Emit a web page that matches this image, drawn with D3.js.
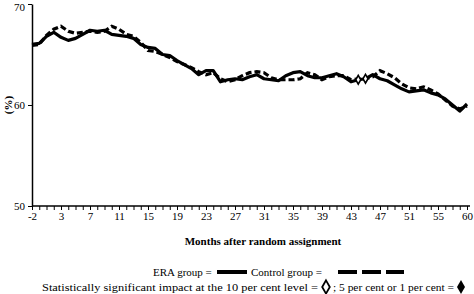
<!DOCTYPE html>
<html><head><meta charset="utf-8">
<script src="https://cdn.jsdelivr.net/npm/d3@7"></script>
<style>
body{margin:0;background:#fff;}
svg text{font-family:"Liberation Serif",serif !important;fill:#000;}
</style></head>
<body><svg id="c" width="474" height="294" font-family="Liberation Serif, serif"></svg>
<script>
const months = [-2,-1,1,2,3,4,5,6,7,8,9,10,11,12,13,14,15,16,17,18,19,20,21,22,23,24,25,26,27,28,29,30,31,32,33,34,35,36,37,38,39,40,41,42,43,44,45,46,47,48,49,50,51,52,53,54,55,56,57,58,60];
const era = [66.0,66.1,66.8,67.2,66.7,66.4,66.6,67.0,67.4,67.3,67.4,67.0,66.9,66.8,66.6,66.0,65.7,65.6,65.0,64.9,64.4,64.0,63.6,63.0,63.4,63.4,62.3,62.5,62.6,62.5,62.8,63.0,62.6,62.5,62.4,62.9,63.2,63.3,62.9,62.7,62.7,62.9,63.1,62.8,62.3,62.5,62.6,63.0,62.6,62.4,62.0,61.6,61.3,61.4,61.5,61.2,61.0,60.6,60.0,59.4,60.1];
const control = [65.9,66.0,66.9,67.5,67.8,67.3,67.1,67.2,67.3,67.2,67.3,67.8,67.5,67.0,66.8,66.2,65.4,65.3,65.0,64.7,64.3,64.0,63.7,63.3,63.0,63.2,62.6,62.3,62.5,62.9,63.2,63.3,63.2,62.7,62.5,62.5,62.5,62.6,63.2,63.0,62.5,62.8,62.9,62.9,62.5,62.6,62.6,62.8,63.4,63.1,62.7,62.1,61.7,61.6,61.8,61.5,61.1,60.5,59.9,59.6,59.9];
const sigMonths = [44,45];
const yTicks = [50,60,70];

const FONT = "Liberation Serif, serif";
const svg = d3.select("#c");
const x = d3.scaleLinear().domain([0, months.length-1]).range([32, 467]);
const y = d3.scaleLinear().domain([50,70]).range([206, 4]);

// axes
const xAxis = d3.axisBottom(x)
  .tickValues(d3.range(months.length))
  .tickFormat(i => (i % 4 === 0) ? String(months[i]) : "")
  .tickSize(4).tickSizeOuter(0).tickPadding(2);
const gx = svg.append("g").attr("transform","translate(0,206)").call(xAxis).attr("font-family",FONT);
gx.select(".domain").attr("d","M32,0H470").attr("stroke","#000").attr("stroke-width",1.5);
gx.selectAll(".tick line").attr("stroke","#000").attr("stroke-width",1);
gx.selectAll("text").attr("font-size",11);

const yAxis = d3.axisLeft(y).tickValues(yTicks).tickSize(4).tickSizeOuter(0).tickPadding(3);
const gy = svg.append("g").attr("transform","translate(32,0)").call(yAxis).attr("font-family",FONT);
gy.select(".domain").attr("stroke","#000").attr("stroke-width",1.5);
gy.selectAll("text").attr("font-size",11);
gy.selectAll(".tick").filter(d => d === 70).select("text").attr("dy","0.55em");

svg.append("text").attr("transform","translate(12,105) rotate(-90)")
  .attr("text-anchor","middle").attr("font-size",11).attr("font-weight","bold").text("(%)");

// lines
const line = d3.line().x((d,i)=>x(i)).y(d=>y(d));
svg.append("path").datum(era).attr("d",line).attr("fill","none")
  .attr("stroke","#000").attr("stroke-width",3.2).attr("stroke-linejoin","round");
svg.append("path").datum(control).attr("d",line).attr("fill","none")
  .attr("stroke","#000").attr("stroke-width",3.2).attr("stroke-dasharray","6,3");

// significance markers
const diamond = d3.symbol().type(d3.symbolDiamond).size(22);
sigMonths.forEach(m => {
  const i = months.indexOf(m);
  svg.append("path").attr("d",diamond())
    .attr("transform",`translate(${x(i)},${y(era[i])})`)
    .attr("fill","#fff").attr("stroke","#000").attr("stroke-width",1.6);
});

// axis title
svg.append("text").attr("x",263).attr("y",245).attr("text-anchor","middle")
  .attr("font-size",11).attr("font-weight","bold").text("Months after random assignment");

// legend
svg.append("text").attr("x",153).attr("y",276).attr("font-size",11).text("ERA group =");
svg.append("line").attr("x1",217).attr("x2",247).attr("y1",272).attr("y2",272)
  .attr("stroke","#000").attr("stroke-width",4);
svg.append("text").attr("x",251).attr("y",276).attr("font-size",11).text("Control group =");
svg.append("line").attr("x1",338).attr("x2",404).attr("y1",272).attr("y2",272)
  .attr("stroke","#000").attr("stroke-width",4).attr("stroke-dasharray","19,5");
svg.append("text").attr("x",42).attr("y",291).attr("font-size",11)
  .attr("textLength",276).attr("lengthAdjust","spacingAndGlyphs")
  .text("Statistically significant impact at the 10 per cent level =");
svg.append("path").attr("d",d3.symbol().type(d3.symbolDiamond).size(50)())
  .attr("transform","translate(326,287)").attr("fill","#fff").attr("stroke","#000").attr("stroke-width",1.8);
svg.append("text").attr("x",333).attr("y",291).attr("font-size",11)
  .attr("textLength",121).attr("lengthAdjust","spacingAndGlyphs")
  .text(";  5 per cent  or  1 per cent =");
svg.append("path").attr("d",d3.symbol().type(d3.symbolDiamond).size(55)())
  .attr("transform","translate(461,287)").attr("fill","#000");
svg.selectAll("text").attr("font-family",FONT);
</script></body></html>
